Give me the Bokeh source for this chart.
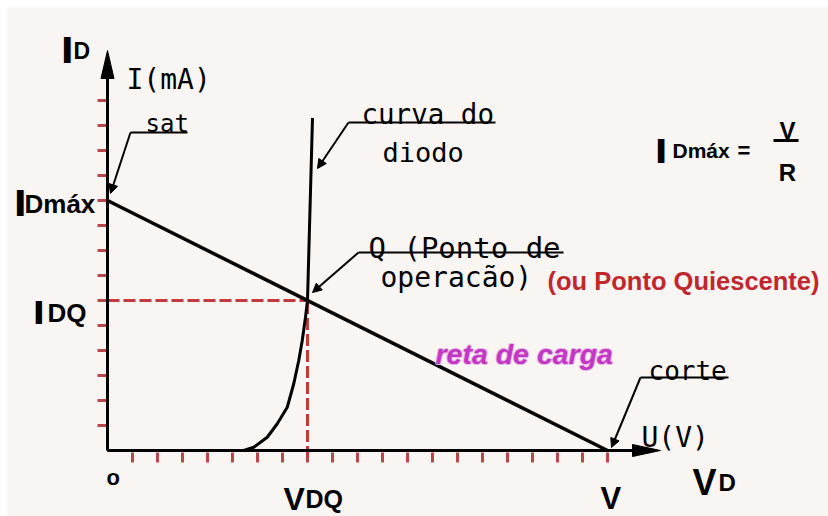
from bokeh.plotting import figure
from bokeh.models import Range1d, Arrow, NormalHead
from bokeh.core.properties import value
from bokeh.embed import file_html
from bokeh.resources import INLINE

# ---------------- data (in grid/tick units) ----------------
V_SOURCE = 20          # V  (corte)
ID_MAX = 10            # IDmáx (sat)
VDQ = 8                # V_DQ
IDQ = 6                # I_DQ
X_AXIS_END = 22.12
Y_AXIS_END = 16.0
x_ticks = [1, 2, 3, 4, 5, 6, 7, 8, 9, 10, 11, 12, 13, 14, 15, 16, 17, 18, 19, 20]
y_ticks = [1, 2, 3, 4, 5, 6, 7, 8, 9, 10, 11, 12, 13, 14]
diode_v = [0.0, 5.45, 5.85, 6.39, 6.79, 7.19, 7.45, 7.65, 7.79, 7.92, 8.0, 8.2]
diode_i = [0.0, 0.0, 0.13, 0.53, 1.07, 1.73, 2.67, 3.6, 4.4, 5.33, 6.0, 13.3]
load_v = [0, V_SOURCE]
load_i = [ID_MAX, 0]

# ---------------- geometry helpers (picture pixels -> data) ----------------
W, H = 828, 516
PX0, PY0, S = 107, 450, 25.0   # origin in picture pixels and pixels per unit
def dx(px):
    return (px - PX0) / S
def dy(py):
    return (PY0 - py) / S

BG = "#f8f5f3"
RED = "#b8484a"
DASH_RED = "#c23a3c"

p = figure(width=W, height=H, output_backend="svg", toolbar_location=None,
           x_range=Range1d(dx(0), dx(W)), y_range=Range1d(dy(H), dy(0)),
           min_border=0, background_fill_color="white", border_fill_color="white",
           outline_line_color=None)
p.axis.visible = False
p.grid.visible = False

# off-white sheet with a thin white border at top/left
p.quad(left=[dx(7)], right=[dx(W + 5)], top=[dy(7)], bottom=[dy(H + 5)],
       fill_color=BG, line_color=None)

# ticks (red)
p.segment(x0=[-0.4] * len(y_ticks), y0=y_ticks, x1=[0] * len(y_ticks), y1=y_ticks,
          line_color=RED, line_width=3)
p.segment(x0=x_ticks, y0=[-0.08] * len(x_ticks), x1=x_ticks, y1=[-0.48] * len(x_ticks),
          line_color=RED, line_width=3)

# dashed Q guides
p.line(x=[0, VDQ], y=[IDQ, IDQ], line_color=DASH_RED, line_width=3, line_dash="12 4")
p.line(x=[VDQ, VDQ], y=[-0.3, IDQ], line_color=DASH_RED, line_width=3, line_dash="12 4")

# axes
p.line(x=[0, 0], y=[0, Y_AXIS_END - 1.0], line_color="black", line_width=3)
p.line(x=[0, X_AXIS_END - 1.0], y=[0, 0], line_color="black", line_width=3)
p.patch(x=[0, -0.26, 0.26], y=[Y_AXIS_END, Y_AXIS_END - 1.12, Y_AXIS_END - 1.12],
        color="black")
p.patch(x=[X_AXIS_END, X_AXIS_END - 1.12, X_AXIS_END - 1.12], y=[0, 0.24, -0.24],
        color="black")

# load line and diode curve
p.line(x=load_v, y=load_i, line_color="black", line_width=3.5)
p.line(x=diode_v, y=diode_i, line_color="black", line_width=3)

# leader lines with small arrowheads
def leader(tip_px, start_px, end_x_px):
    sx, sy = dx(start_px[0]), dy(start_px[1])
    p.segment(x0=[sx], y0=[sy], x1=[dx(end_x_px)], y1=[sy], line_color="black", line_width=2)
    p.add_layout(Arrow(x_start=sx, y_start=sy, x_end=dx(tip_px[0]), y_end=dy(tip_px[1]),
                       line_width=2, line_color="black",
                       end=NormalHead(size=9, line_color="black", fill_color="black")))

leader((110, 193), (130, 132), 187)    # sat
leader((317, 168), (348, 122), 495)    # curva do diodo
leader((312, 292), (358, 252), 563)    # Q
leader((611, 447), (640, 377), 728)    # corte

# texts
def txt(px, py, s, size, font="Liberation Sans", style="bold", color="black",
        align="left", baseline="alphabetic"):
    p.text(x=[dx(px)], y=[dy(py)], text=[s], text_font=value(font),
           text_font_size=f"{size}px", text_font_style=style, text_color=color,
           text_align=align, text_baseline=baseline)

def big_i(px, py, size):
    # heavy capital I (drawn twice for a thicker stroke)
    txt(px, py, "I", size)
    txt(px + 1.5, py, "I", size)

TECH = "DejaVu Sans Mono"
txt(126, 79, "I(mA)", 28, font=TECH, style="normal")
txt(145, 123, "sat", 24, font=TECH, style="normal")
txt(361, 113, "curva do", 27.5, font=TECH, style="normal")
txt(382, 152, "diodo", 27, font=TECH, style="normal")
txt(368, 247, "Q (Ponto de", 29, font=TECH, style="normal")
txt(380, 277, "operacão)", 28, font=TECH, style="normal")
txt(648, 370, "corte", 26, font=TECH, style="normal")
txt(641, 437, "U(V)", 28, font=TECH, style="normal")

# subscripted bold labels
big_i(61, 50, 36); txt(73, 50, "D", 23)
big_i(14, 203, 36); txt(24, 203, "Dmáx", 26)
big_i(33, 312, 33); txt(47, 312, "DQ", 26)
txt(283, 498, "V", 32); txt(305, 498, "DQ", 25)
txt(600, 498, "V", 31)
txt(692, 482, "V", 36); txt(718, 482, "D", 24)
txt(106, 477, "o", 22)

# formula  IDmáx = V / R
big_i(655, 150, 35); txt(672, 150, "Dmáx", 21); txt(737, 150, "=", 22)
txt(787, 130, "V", 24, align="center")
txt(787, 172, "R", 24, align="center")
p.segment(x0=[dx(773)], y0=[dy(140)], x1=[dx(798)], y1=[dy(140)], line_color="black", line_width=3)

# coloured notes
txt(547, 280, "(ou Ponto Quiescente)", 25.5, color="#c0282d")
for ox, oy in [(-1, 0), (1, 0), (0, -1), (0, 1)]:
    txt(435 + ox, 353 + oy, "reta de carga", 28.5, style="bold italic", color="#eab4ea")
txt(435, 353, "reta de carga", 28.5, style="bold italic", color="#c238c2")

open("out.html", "w").write(file_html(p, INLINE))
